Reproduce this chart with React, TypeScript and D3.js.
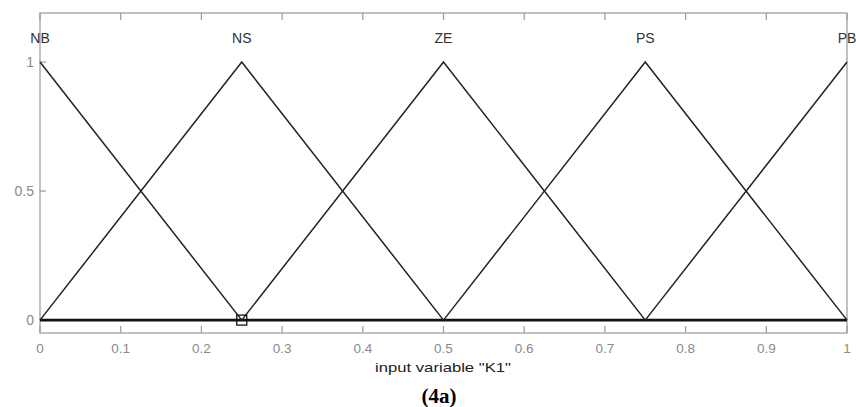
import React from "react";
import * as d3 from "d3";

// Membership functions of input variable K1 (triangular)
const names = ["NB", "NS", "ZE", "PS", "PB"];
const centers = [0, 0.25, 0.5, 0.75, 1];
const halfWidth = 0.25;
const xTicks = [0, 0.1, 0.2, 0.3, 0.4, 0.5, 0.6, 0.7, 0.8, 0.9, 1];
const yTicks = [0, 0.5, 1];
const markerX = 0.25;

const W = 856;
const H = 407;
const left = 40;
const right = 847;
const top = 13;
const bottom = 333;

export default function App() {
  const x = d3.scaleLinear().domain([0, 1]).range([left, right]);
  const y = d3.scaleLinear().domain([-0.05, 1.19]).range([bottom, top]);
  const line = d3
    .line<[number, number]>()
    .x((d) => x(d[0]))
    .y((d) => y(d[1]));

  const mfs = centers.map((c) => {
    const pts: [number, number][] = [];
    const a = Math.max(0, c - halfWidth);
    const b = Math.min(1, c + halfWidth);
    pts.push([a, a === c ? 1 : 0]);
    if (a !== c && b !== c) pts.push([c, 1]);
    pts.push([b, b === c ? 1 : 0]);
    return pts;
  });

  const gray = "#a0a0a0";
  const labelGray = "#8a8a8a";
  const font = "Liberation Sans, Arial, sans-serif";

  return (
    <svg
      width={W}
      height={H}
      style={{ position: "absolute", left: 0, top: 0, background: "#fff" }}
    >
      {/* axes box */}
      <rect x={left} y={top} width={right - left} height={bottom - top} fill="none" stroke={gray} strokeWidth={1.3} />
      {xTicks.map((t) => (
        <g key={"xt" + t}>
          <line x1={x(t)} x2={x(t)} y1={bottom} y2={bottom - 7} stroke={gray} strokeWidth={1.3} />
          <line x1={x(t)} x2={x(t)} y1={top} y2={top + 7} stroke={gray} strokeWidth={1.3} />
          <text x={x(t)} y={353} textAnchor="middle" fontFamily={font} fontSize={13.5} fill={labelGray}>
            {String(t)}
          </text>
        </g>
      ))}
      {yTicks.map((t) => (
        <g key={"yt" + t}>
          <line x1={left} x2={left + 6} y1={y(t)} y2={y(t)} stroke={gray} strokeWidth={1.3} />
          <text x={left - 6} y={y(t) + 5} textAnchor="end" fontFamily={font} fontSize={14} fill={labelGray}>
            {String(t)}
          </text>
        </g>
      ))}

      {/* baseline */}
      <line x1={x(0)} x2={x(1)} y1={y(0)} y2={y(0)} stroke="#111" strokeWidth={2.6} />

      {/* membership triangles */}
      {mfs.map((pts, i) => (
        <path key={"mf" + i} d={line(pts) || ""} fill="none" stroke="#222" strokeWidth={1.5} />
      ))}

      {/* selected point marker */}
      <rect x={x(markerX) - 5} y={y(0) - 5} width={10} height={10} fill="none" stroke="#111" strokeWidth={1.3} />

      {/* membership function names */}
      {names.map((n, i) => (
        <text key={n} x={x(centers[i])} y={43} textAnchor="middle" fontFamily={font} fontSize={14} fill="#333">
          {n}
        </text>
      ))}

      <text x={443} y={372} textAnchor="middle" fontFamily={font} fontSize={13.5} fill="#222" textLength={136} lengthAdjust="spacingAndGlyphs">
        input variable "K1"
      </text>
      <text x={439} y={403} textAnchor="middle" fontFamily="Liberation Serif, Times New Roman, serif" fontWeight="bold" fontSize={21} fill="#000">
        (4a)
      </text>
    </svg>
  );
}
